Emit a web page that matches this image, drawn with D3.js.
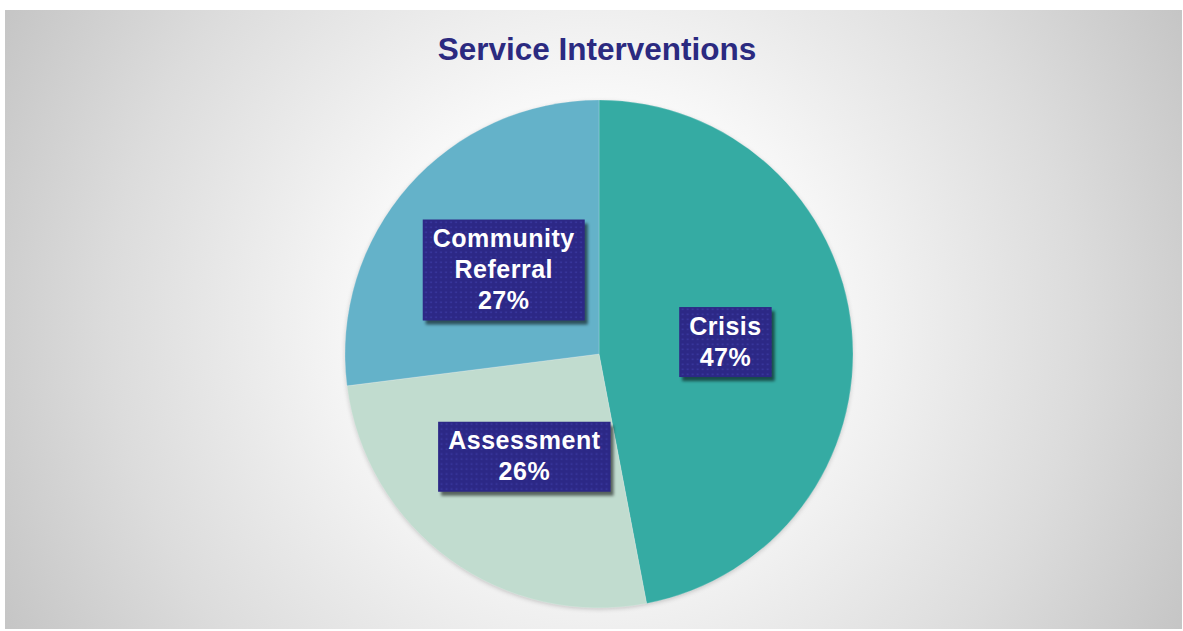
<!DOCTYPE html>
<html>
<head>
<meta charset="utf-8">
<script src="https://cdn.jsdelivr.net/npm/d3@7"></script>
<style>
  html, body { margin: 0; padding: 0; background: #ffffff; }
  svg { display: block; }
  text { font-family: "Liberation Sans", Arial, sans-serif; }
</style>
</head>
<body>
<svg id="chart" width="1183" height="631"></svg>
<script>
// Share of service interventions, drawn clockwise from 12 o'clock
const categories = ["Crisis", "Assessment", "Community Referral"];
const percents = [47, 26, 27];
const labelLines = [["Crisis"], ["Assessment"], ["Community", "Referral"]];
const sliceColors = ["#35aba3", "#c1dccf", "#64b2c9"];
const chartTitle = "Service Interventions";

const W = 1183, H = 631;
const svg = d3.select("#chart");
const defs = svg.append("defs");

// Soft radial backdrop: white centre fading to grey corners
const bg = defs.append("radialGradient")
  .attr("id", "bgGrad")
  .attr("gradientUnits", "userSpaceOnUse")
  .attr("cx", 594).attr("cy", 320).attr("r", 690);
[[0, "#ffffff"], [0.3, "#fafafa"], [0.7, "#dcdcdc"], [1, "#c2c2c2"]]
  .forEach(([o, c]) => bg.append("stop").attr("offset", o).attr("stop-color", c));

svg.append("rect")
  .attr("x", 5).attr("y", 10)
  .attr("width", 1177).attr("height", 619)
  .attr("fill", "url(#bgGrad)");

// Dotted fill for the label boxes
const pat = defs.append("pattern")
  .attr("id", "dots")
  .attr("patternUnits", "userSpaceOnUse")
  .attr("width", 5).attr("height", 5);
pat.append("rect").attr("width", 5).attr("height", 5).attr("fill", "#2c2886");
pat.append("rect").attr("x", 1.5).attr("y", 1.5).attr("width", 1.6).attr("height", 1.6).attr("fill", "#3b3aa2");

const shadow = defs.append("filter").attr("id", "boxShadow")
  .attr("x", "-20%").attr("y", "-20%").attr("width", "150%").attr("height", "150%");
shadow.append("feGaussianBlur").attr("stdDeviation", 1.8);

const pieShadow = defs.append("filter").attr("id", "pieShadow")
  .attr("x", "-10%").attr("y", "-10%").attr("width", "120%").attr("height", "120%");
pieShadow.append("feGaussianBlur").attr("stdDeviation", 2);

// Title
svg.append("text")
  .attr("x", 597).attr("y", 60)
  .attr("text-anchor", "middle")
  .attr("font-size", 31.5)
  .attr("font-weight", "bold")
  .attr("fill", "#2b2a80")
  .text(chartTitle);

// Pie
const cx = 599, cy = 354, radius = 254;
const data = categories.map((c, i) => ({ name: c, value: percents[i], lines: labelLines[i], color: sliceColors[i] }));

const pie = d3.pie().sort(null).value(d => d.value);
const arcs = pie(data);
const arc = d3.arc().innerRadius(0).outerRadius(radius);

const g = svg.append("g").attr("transform", `translate(${cx},${cy})`);

g.append("circle")
  .attr("cx", 0).attr("cy", 1.5).attr("r", radius)
  .attr("fill", "rgba(0,0,0,0.18)")
  .attr("filter", "url(#pieShadow)");

g.selectAll("path.slice")
  .data(arcs)
  .join("path")
  .attr("class", "slice")
  .attr("d", arc)
  .attr("fill", d => d.data.color)
  .attr("stroke", "rgba(255,255,255,0.25)")
  .attr("stroke-width", 0.8);

// Data labels: dotted boxes centred on slice centroids
const fontSize = 25, lineH = 31, padX = 10;
const labels = g.selectAll("g.label")
  .data(arcs)
  .join("g")
  .attr("class", "label")
  .attr("transform", d => { const [x, y] = arc.centroid(d); return `translate(${x},${y})`; });

labels.each(function (d) {
  const lg = d3.select(this);
  const lines = d.data.lines.concat([d.data.value + "%"]);
  const h = lines.length * lineH + 8;
  const t = lg.append("text")
    .attr("text-anchor", "middle")
    .attr("font-size", fontSize)
    .attr("font-weight", "bold")
    .attr("letter-spacing", 0.5)
    .attr("fill", "#ffffff");
  lines.forEach((ln, i) => {
    t.append("tspan").attr("x", 0).attr("y", -h / 2 + 27.5 + i * lineH).text(ln);
  });
  const w = t.node().getBBox().width + 2 * padX;
  lg.insert("rect", "text")
    .attr("x", -w / 2 + 3).attr("y", -h / 2 + 4)
    .attr("width", w).attr("height", h)
    .attr("fill", "rgba(0,0,0,0.55)")
    .attr("filter", "url(#boxShadow)");
  lg.insert("rect", "text")
    .attr("x", -w / 2).attr("y", -h / 2)
    .attr("width", w).attr("height", h)
    .attr("fill", "url(#dots)");
});
</script>
</body>
</html>
